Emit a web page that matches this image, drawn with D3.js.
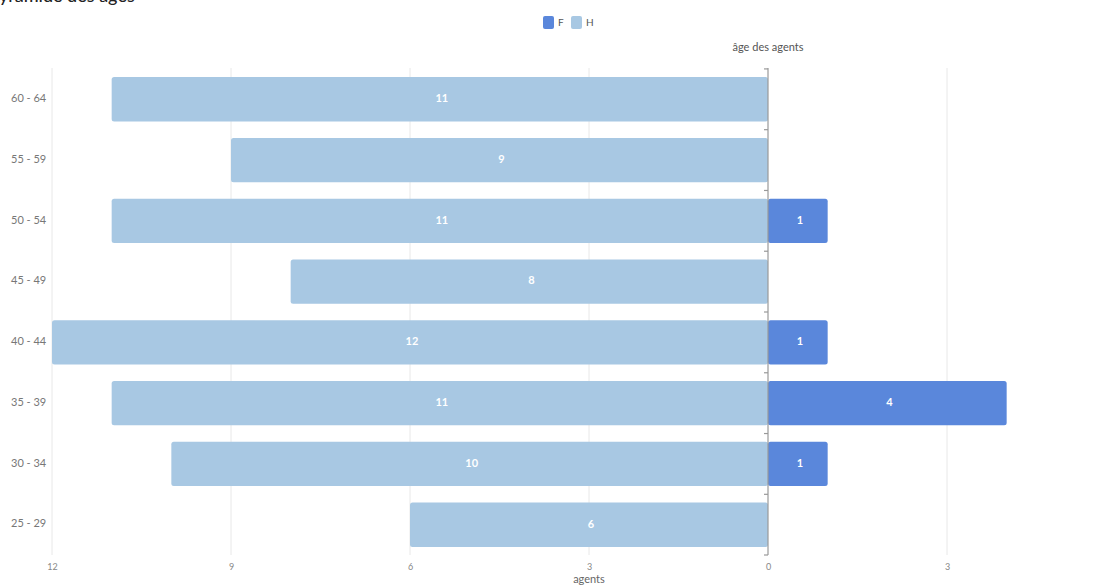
<!DOCTYPE html>
<html>
<head>
<meta charset="utf-8">
<script src="https://cdn.jsdelivr.net/npm/d3@7"></script>
<style>
  html, body { margin: 0; padding: 0; background: #fff; overflow: hidden; }
  svg { display: block; font-family: Lato, "Noto Sans", sans-serif; }
</style>
</head>
<body>
<svg id="chart" width="1118" height="586"></svg>
<script>
// Age pyramid: men (H) to the left, women (F) to the right
const ageGroups = ["60 - 64", "55 - 59", "50 - 54", "45 - 49", "40 - 44", "35 - 39", "30 - 34", "25 - 29"];
const hommes = [11, 9, 11, 8, 12, 11, 10, 6];
const femmes = [0, 0, 1, 0, 1, 4, 1, 0];
const xTicks = [-12, -9, -6, -3, 0, 3];
const seriesNames = ["F", "H"];
const colors = { F: "#5a87db", H: "#a8c8e3" };

const svg = d3.select("#chart");

const x = d3.scaleLinear().domain([-12, 6]).range([52, 1126]);
const y = d3.scaleBand().domain(ageGroups).range([68, 556]).paddingInner(0.27).paddingOuter(0.15);

// Title (runs off the top-left edge)
svg.append("text").attr("x", -12).attr("y", 2)
  .attr("font-size", 18).attr("font-weight", 500).attr("fill", "#222")
  .text("Pyramide des âges");

// Vertical grid lines
svg.append("g").selectAll("line").data(xTicks.filter(d => d !== 0)).join("line")
  .attr("x1", d => x(d)).attr("x2", d => x(d))
  .attr("y1", 68).attr("y2", 555)
  .attr("stroke", "#e8e8e8").attr("stroke-width", 1);

// X tick labels (absolute values)
const xAxis = d3.axisBottom(x).tickValues(xTicks).tickFormat(d => Math.abs(d)).tickSize(0).tickPadding(0);
const gx = svg.append("g").attr("transform", "translate(0,564)").call(xAxis);
gx.select(".domain").remove();
gx.selectAll("text").attr("font-size", 9).attr("fill", "#888").attr("font-family", "Lato, sans-serif");

svg.append("text").attr("x", x(-3)).attr("y", 583).attr("text-anchor", "middle")
  .attr("font-size", 11).attr("fill", "#666").text("agents");

// Category labels
svg.append("g").selectAll("text").data(ageGroups).join("text")
  .attr("x", 11).attr("y", d => y(d) + y.bandwidth() / 2)
  .attr("dominant-baseline", "middle")
  .attr("font-size", 11).attr("fill", "#777").text(d => d);

// Bars
const rows = ageGroups.map((g, i) => ({ g, h: hommes[i], f: femmes[i] }));
const bars = svg.append("g");
bars.selectAll("rect.h").data(rows).join("rect").attr("class", "h")
  .attr("x", d => x(-d.h)).attr("width", d => x(0) - x(-d.h))
  .attr("y", d => y(d.g)).attr("height", y.bandwidth())
  .attr("rx", 2.5).attr("fill", colors.H);
bars.selectAll("rect.f").data(rows.filter(d => d.f > 0)).join("rect").attr("class", "f")
  .attr("x", x(0)).attr("width", d => x(d.f) - x(0))
  .attr("y", d => y(d.g)).attr("height", y.bandwidth())
  .attr("rx", 2.5).attr("fill", colors.F);

// Value labels
bars.selectAll("text.hl").data(rows).join("text").attr("class", "hl")
  .attr("x", d => (x(-d.h) + x(0)) / 2 + 2).attr("y", d => y(d.g) + y.bandwidth() / 2)
  .attr("text-anchor", "middle").attr("dominant-baseline", "middle")
  .attr("font-size", 11).attr("font-weight", 700).attr("fill", "#fff").text(d => d.h);
bars.selectAll("text.fl").data(rows.filter(d => d.f > 0)).join("text").attr("class", "fl")
  .attr("x", d => (x(d.f) + x(0)) / 2 + 2).attr("y", d => y(d.g) + y.bandwidth() / 2)
  .attr("text-anchor", "middle").attr("dominant-baseline", "middle")
  .attr("font-size", 11).attr("font-weight", 700).attr("fill", "#fff").text(d => d.f);

// Centre axis with ticks at band boundaries
const boundaries = ageGroups.map(g => y(g) - y.step() * y.paddingInner() / 2).concat([555]);
svg.append("line").attr("x1", x(0)).attr("x2", x(0)).attr("y1", 68).attr("y2", 555)
  .attr("stroke", "#999").attr("stroke-width", 1.2);
svg.append("g").selectAll("line").data(boundaries).join("line")
  .attr("x1", x(0) - 4).attr("x2", x(0)).attr("y1", d => d).attr("y2", d => d)
  .attr("stroke", "#999").attr("stroke-width", 1.2);

svg.append("text").attr("x", x(0)).attr("y", 51).attr("text-anchor", "middle")
  .attr("font-size", 11).attr("fill", "#555").text("âge des agents");

// Legend
const legend = svg.append("g").attr("transform", "translate(543,16)");
const li = legend.selectAll("g").data(seriesNames).join("g")
  .attr("transform", (d, i) => `translate(${i * 28},0)`);
li.append("rect").attr("width", 11).attr("height", 13).attr("rx", 2).attr("fill", d => colors[d]);
li.append("text").attr("x", 15).attr("y", 7).attr("dominant-baseline", "middle")
  .attr("font-size", 10).attr("fill", "#555").text(d => d);
</script>
</body>
</html>
